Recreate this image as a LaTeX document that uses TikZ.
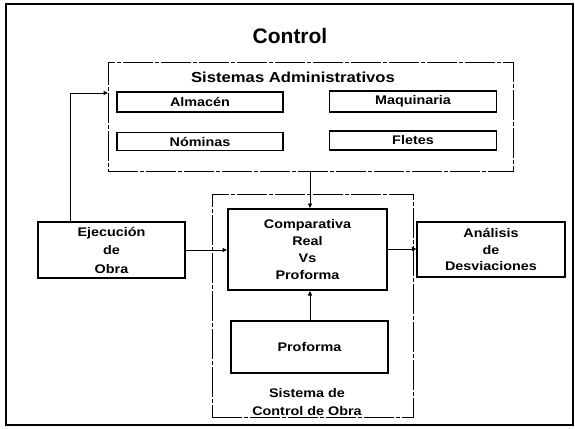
\documentclass[tikz,border=0pt]{standalone}
\usepackage{fontspec}
\setmainfont{Liberation Sans}
\newfontfamily\widesans[FakeStretch=1.15]{Liberation Sans}
\usetikzlibrary{arrows.meta}
\begin{document}
\begin{tikzpicture}[x=1pt,y=-1pt,
  box/.style={draw,line width=1.1pt,inner sep=0pt,font=\widesans\bfseries\fontsize{12.5}{14}\selectfont},
  bigbox/.style={draw,line width=1.1pt,inner sep=0pt,align=center,font=\widesans\bfseries\fontsize{12.5}{17}\selectfont},
  grp/.style={draw,line width=0.9pt,dash pattern=on 30pt off 2pt on 4pt off 2pt},
  arr/.style={line width=0.9pt,-{Triangle[length=4.5pt,width=4pt]}},
  lbl/.style={font=\widesans\bfseries\fontsize{14.5}{16}\selectfont}]
\useasboundingbox (0,0) rectangle (575,428);
\draw[line width=1.6pt] (6,4) rectangle (573,425);
\node[font=\bfseries\fontsize{21}{24}\selectfont] (title) at (290,36) {Control};
% Sistemas Administrativos
\node[grp,minimum width=405pt,minimum height=109pt,anchor=north west] (sa) at (108,62) {};
\node[lbl] (satitle) at (293,77) {Sistemas Administrativos};
\node[box,minimum width=166pt,minimum height=20pt] (alm) at (200,102) {Almacén};
\node[box,minimum width=167pt,minimum height=21pt] (maq) at (413,101.5) {Maquinaria};
\node[box,minimum width=166pt,minimum height=18pt] (nom) at (200,141.5) {Nóminas};
\node[box,minimum width=167pt,minimum height=19pt] (fle) at (413,140.5) {Fletes};
% Sistema de Control de Obra
\node[grp,minimum width=201pt,minimum height=223pt,anchor=north west] (sco) at (212,194) {};
\node[align=center,font=\widesans\bfseries\fontsize{12.5}{18}\selectfont] (scolbl) at (307,402) {Sistema de\\Control de Obra};
\node[bigbox,line width=2pt,minimum width=159pt,minimum height=81pt,font=\widesans\bfseries\fontsize{12.5}{16.7}\selectfont] (comp) at (307.5,249.5) {Comparativa\\Real\\Vs\\Proforma};
\node[bigbox,minimum width=157pt,minimum height=52pt] (prof) at (309.5,347) {Proforma};
% side boxes
\node[bigbox,minimum width=147pt,minimum height=56pt,font=\widesans\bfseries\fontsize{12.5}{18.5}\selectfont] (eje) at (111.5,250) {Ejecución\\de\\Obra};
\node[bigbox,minimum width=148pt,minimum height=55pt,font=\widesans\bfseries\fontsize{12.5}{16.2}\selectfont] (ana) at (491,249.5) {Análisis\\de\\Desviaciones};
% connectors
\draw[arr] (eje.east |- 0,250) -- (comp.west |- 0,250);
\draw[arr] (comp.east |- 0,249) -- (ana.west |- 0,249);
\draw[arr] (sa.south -| 310,0) -- (comp.north -| 310,0);
\draw[arr] (prof.north -| 310,0) -- (comp.south -| 310,0);
\draw[arr] (eje.north -| 70,0) |- (sa.west |- 0,93);
\end{tikzpicture}
\end{document}
